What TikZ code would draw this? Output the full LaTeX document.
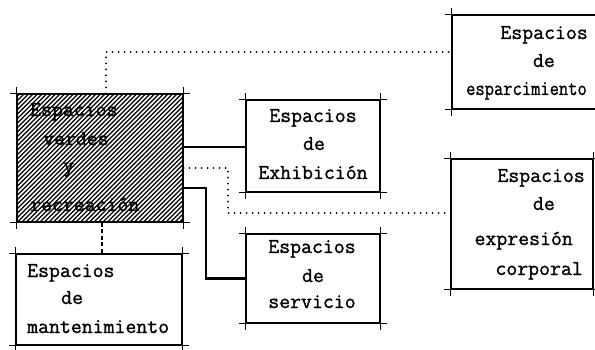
\documentclass[tikz,border=0pt]{standalone}
\usepackage{fontspec}
\usetikzlibrary{calc}
\newfontfamily\twfont{Latin Modern Mono}[FakeBold=1.2]
\begin{document}
\begin{tikzpicture}[x=1pt,y=-1pt,
  boxshape/.style={draw, line width=1.3pt, rectangle, inner sep=0pt},
  edgeline/.style={line width=1.3pt},
  hatch/.style={line width=1.1pt},
  solidc/.style={line width=2.4pt},
  dotc/.style={line width=2pt, line cap=round, dash pattern=on 0pt off 6pt},
  dashc/.style={line width=1.6pt, dash pattern=on 4pt off 2.5pt},
  txt/.style={font=\twfont\bfseries\fontsize{21.2}{24}\selectfont, inner sep=0pt}]
\useasboundingbox (0,0) rectangle (595,350);
\clip (0,0) rectangle (595,350);

% boxes
\node[boxshape, minimum width=166pt, minimum height=128pt] (main) at (100,158) {};
\node[boxshape, minimum width=166pt, minimum height=91pt] (mant) at (99,299.5) {};
\node[boxshape, minimum width=134pt, minimum height=92pt] (exh) at (313,146) {};
\node[boxshape, minimum width=134pt, minimum height=89pt] (serv) at (313,278.5) {};
\node[boxshape, minimum width=168pt, minimum height=94pt] (espa) at (536,62) {};
\node[boxshape, minimum width=142pt, minimum height=130pt] (expr) at (522,224) {};

% hatching of main box
\begin{scope}
  \clip (main.south west) rectangle (main.north east);
  \foreach \i in {-130,-125.5,...,170}
    \draw[hatch] ([xshift=\i pt]main.south west) -- ++(130,-130);
\end{scope}

% corner extensions
\foreach \n in {main,mant,exh,serv,espa,expr} {
  \draw[edgeline] ([xshift=-6pt]\n.north west) -- ([xshift=6pt]\n.north east);
  \draw[edgeline] ([xshift=-6pt]\n.south west) -- ([xshift=6pt]\n.south east);
  \draw[edgeline] ([yshift=6pt]\n.north west) -- ([yshift=-6pt]\n.south west);
  \draw[edgeline] ([yshift=6pt]\n.north east) -- ([yshift=-6pt]\n.south east);
}

% helper coordinates
\coordinate (c1) at (0,147);
\coordinate (c2) at (0,188);
\coordinate (k) at (206,0);
\coordinate (d1) at (0,168);
\coordinate (d2) at (228,213);
\coordinate (t1) at (106,52);
\coordinate (x1) at (102,0);

% connectors
\draw[solidc] (main.east |- c1) -- (exh.west |- c1);
\draw[solidc] (main.east |- c2) -| (k |- serv.west) -- (serv.west);
\draw[dotc] (main.east |- d1) -| (d2) -- (expr.west |- d2);
\draw[dotc] (main.north -| t1) |- (espa.west |- t1);
\draw[dashc] (main.south -| x1) -- (mant.north -| x1);

% texts
\node[txt, anchor=base west] (m1) at (30,116) {Espacios};
\node[txt, anchor=base west] (m2) at (43,145) {verdes};
\node[txt, anchor=base west] (m3) at (63,172) {y};
\node[txt, anchor=base west] (m4) at (30,211) {recreación};

\node[txt, anchor=base west] (n1) at (27,277) {Espacios};
\node[txt, anchor=base west] (n2) at (61,304) {de};
\node[txt, anchor=base west] (n3) at (27,333) {mantenimiento};

\node[txt, anchor=base] (e1) at (313,122) {Espacios};
\node[txt, anchor=base] (e2) at (314,150) {de};
\node[txt, anchor=base] (e3) at (313,179) {Exhibición};

\node[txt, anchor=base] (s1) at (312,253) {Espacios};
\node[txt, anchor=base] (s2) at (313,282) {de};
\node[txt, anchor=base] (s3) at (312,308) {servicio};

\node[txt, anchor=base east] (p1) at (588,39) {Espacios};
\node[txt, anchor=base east] (p2) at (555,67) {de};
\node[txt, anchor=base east] (p3) at (587,95) {\scalebox{0.85}[1]{esparcimiento}};

\node[txt, anchor=base east] (r1) at (585,182) {Espacios};
\node[txt, anchor=base east] (r2) at (555,210) {de};
\node[txt, anchor=base east] (r3) at (573,245) {expresión};
\node[txt, anchor=base east] (r4) at (583,275) {corporal};
\end{tikzpicture}
\end{document}
